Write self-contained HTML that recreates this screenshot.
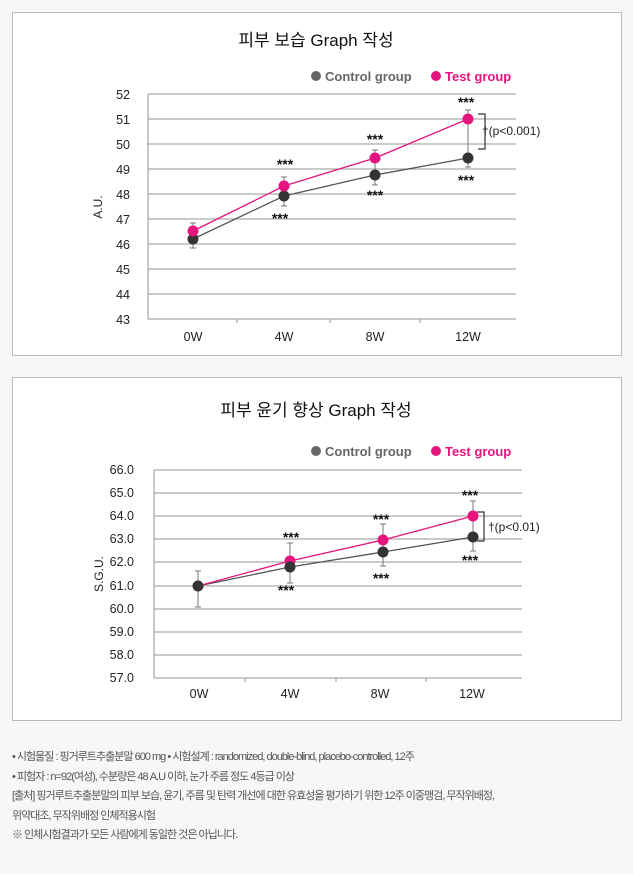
<!DOCTYPE html>
<html><head><meta charset="utf-8"><style>
body{margin:0;width:633px;height:874px;background:#f7f7f8;font-family:"Liberation Sans","Noto Sans CJK KR",sans-serif;overflow:hidden}
.box{position:absolute;left:12px;width:608px;background:#fff;border:1px solid #bbb}
.notes{position:absolute;left:12px;top:748px;font-size:11px;color:#555;line-height:19.6px;letter-spacing:-1px}
</style></head><body>
<div class="box" style="top:12px;height:342px"></div>
<div class="box" style="top:377px;height:342px"></div>
<svg width="633" height="874" style="position:absolute;left:0;top:0" font-family="Liberation Sans, Noto Sans CJK KR, sans-serif">
<!-- Chart 1 -->
<text x="316" y="46" font-size="17" text-anchor="middle" fill="#111">피부 보습 Graph 작성</text>
<circle cx="316" cy="76" r="5" fill="#666"/><text x="325" y="81" font-size="13" fill="#666" font-weight="bold">Control group</text>
<circle cx="436" cy="76" r="5" fill="#e5147f"/><text x="445" y="81" font-size="13" fill="#e5147f" font-weight="bold">Test group</text>
<g stroke="#aaa" stroke-width="1.3">
<line x1="148" y1="94" x2="516" y2="94"/><line x1="148" y1="119" x2="516" y2="119"/><line x1="148" y1="144" x2="516" y2="144"/><line x1="148" y1="169" x2="516" y2="169"/><line x1="148" y1="194" x2="516" y2="194"/><line x1="148" y1="219" x2="516" y2="219"/><line x1="148" y1="244" x2="516" y2="244"/><line x1="148" y1="269" x2="516" y2="269"/><line x1="148" y1="294" x2="516" y2="294"/><line x1="148" y1="319" x2="516" y2="319"/>
<line x1="148" y1="94" x2="148" y2="319"/><line x1="237" y1="319" x2="237" y2="323"/><line x1="330" y1="319" x2="330" y2="323"/><line x1="420" y1="319" x2="420" y2="323"/>
</g>
<g font-size="12.5" fill="#222" text-anchor="end">
<text x="130" y="99">52</text><text x="130" y="124">51</text><text x="130" y="149">50</text><text x="130" y="174">49</text><text x="130" y="199">48</text><text x="130" y="224">47</text><text x="130" y="249">46</text><text x="130" y="274">45</text><text x="130" y="299">44</text><text x="130" y="324">43</text>
</g>
<text transform="translate(102,207) rotate(-90)" font-size="12" fill="#222" text-anchor="middle">A.U.</text>
<g font-size="12.5" fill="#222" text-anchor="middle"><text x="193" y="341">0W</text><text x="284" y="341">4W</text><text x="375" y="341">8W</text><text x="468" y="341">12W</text></g>
<g stroke="#777" stroke-width="1"><line x1="193" y1="223" x2="193" y2="248"/><line x1="284" y1="177" x2="284" y2="206"/><line x1="375" y1="150" x2="375" y2="185"/><line x1="468" y1="110" x2="468" y2="167"/>
<line x1="190" y1="223" x2="196" y2="223"/><line x1="190" y1="248" x2="196" y2="248"/><line x1="281" y1="177" x2="287" y2="177"/><line x1="281" y1="206" x2="287" y2="206"/><line x1="372" y1="150" x2="378" y2="150"/><line x1="372" y1="185" x2="378" y2="185"/><line x1="465" y1="110" x2="471" y2="110"/><line x1="465" y1="167" x2="471" y2="167"/></g>
<polyline points="193,239 284,196 375,175 468,158" fill="none" stroke="#555" stroke-width="1.3"/>
<polyline points="193,231 284,186 375,158 468,119" fill="none" stroke="#e5147f" stroke-width="1.3"/>
<g fill="#333"><circle cx="193" cy="239" r="5.5"/><circle cx="284" cy="196" r="5.5"/><circle cx="375" cy="175" r="5.5"/><circle cx="468" cy="158" r="5.5"/></g>
<g fill="#e5147f"><circle cx="193" cy="231" r="5.5"/><circle cx="284" cy="186" r="5.5"/><circle cx="375" cy="158" r="5.5"/><circle cx="468" cy="119" r="5.5"/></g>
<g font-size="14" fill="#111" text-anchor="middle" font-weight="bold"><text x="285" y="169">***</text><text x="280" y="223">***</text><text x="375" y="144">***</text><text x="375" y="200">***</text><text x="466" y="107">***</text><text x="466" y="185">***</text></g>
<path d="M478,114 H485 V149 H478" fill="none" stroke="#333" stroke-width="1.2"/>
<text x="482" y="135" font-size="12" fill="#222">†(p&lt;0.001)</text>
<!-- Chart 2 -->
<text x="316" y="416" font-size="17" text-anchor="middle" fill="#111">피부 윤기 향상 Graph 작성</text>
<circle cx="316" cy="451" r="5" fill="#666"/><text x="325" y="456" font-size="13" fill="#666" font-weight="bold">Control group</text>
<circle cx="436" cy="451" r="5" fill="#e5147f"/><text x="445" y="456" font-size="13" fill="#e5147f" font-weight="bold">Test group</text>
<g stroke="#aaa" stroke-width="1.3">
<line x1="154" y1="470" x2="522" y2="470"/><line x1="154" y1="493" x2="522" y2="493"/><line x1="154" y1="516" x2="522" y2="516"/><line x1="154" y1="539" x2="522" y2="539"/><line x1="154" y1="562" x2="522" y2="562"/><line x1="154" y1="586" x2="522" y2="586"/><line x1="154" y1="609" x2="522" y2="609"/><line x1="154" y1="632" x2="522" y2="632"/><line x1="154" y1="655" x2="522" y2="655"/><line x1="154" y1="678" x2="522" y2="678"/>
<line x1="154" y1="470" x2="154" y2="678"/><line x1="245" y1="678" x2="245" y2="682"/><line x1="336" y1="678" x2="336" y2="682"/><line x1="426" y1="678" x2="426" y2="682"/>
</g>
<g font-size="12.5" fill="#222" text-anchor="end">
<text x="134" y="474">66.0</text><text x="134" y="497">65.0</text><text x="134" y="520">64.0</text><text x="134" y="543">63.0</text><text x="134" y="566">62.0</text><text x="134" y="590">61.0</text><text x="134" y="613">60.0</text><text x="134" y="636">59.0</text><text x="134" y="659">58.0</text><text x="134" y="682">57.0</text>
</g>
<text transform="translate(103,574) rotate(-90)" font-size="12" fill="#222" text-anchor="middle">S.G.U.</text>
<g font-size="12.5" fill="#222" text-anchor="middle"><text x="199" y="698">0W</text><text x="290" y="698">4W</text><text x="380" y="698">8W</text><text x="472" y="698">12W</text></g>
<g stroke="#777" stroke-width="1"><line x1="198" y1="571" x2="198" y2="607"/><line x1="290" y1="543" x2="290" y2="583"/><line x1="383" y1="524" x2="383" y2="566"/><line x1="473" y1="501" x2="473" y2="551"/>
<line x1="195" y1="571" x2="201" y2="571"/><line x1="195" y1="607" x2="201" y2="607"/><line x1="287" y1="543" x2="293" y2="543"/><line x1="287" y1="583" x2="293" y2="583"/><line x1="380" y1="524" x2="386" y2="524"/><line x1="380" y1="566" x2="386" y2="566"/><line x1="470" y1="501" x2="476" y2="501"/><line x1="470" y1="551" x2="476" y2="551"/></g>
<polyline points="198,586 290,567 383,552 473,537" fill="none" stroke="#555" stroke-width="1.3"/>
<polyline points="198,586 290,561 383,540 473,516" fill="none" stroke="#e5147f" stroke-width="1.3"/>
<g fill="#e5147f"><circle cx="290" cy="561" r="5.5"/><circle cx="383" cy="540" r="5.5"/><circle cx="473" cy="516" r="5.5"/></g>
<g fill="#333"><circle cx="198" cy="586" r="5.5"/><circle cx="290" cy="567" r="5.5"/><circle cx="383" cy="552" r="5.5"/><circle cx="473" cy="537" r="5.5"/></g>
<g font-size="14" fill="#111" text-anchor="middle" font-weight="bold"><text x="291" y="542">***</text><text x="286" y="595">***</text><text x="381" y="524">***</text><text x="381" y="583">***</text><text x="470" y="500">***</text><text x="470" y="565">***</text></g>
<path d="M477,512 H484 V541 H477" fill="none" stroke="#333" stroke-width="1.2"/>
<text x="488" y="531" font-size="12" fill="#222">†(p&lt;0.01)</text>
</svg>
<div class="notes">• 시험물질 : 핑거루트추출분말 600 mg • 시험설계 : randomized, double-blind, placebo-controlled, 12주<br>• 피험자 : n=92(여성), 수분량은 48 A.U 이하, 눈가 주름 정도 4등급 이상<br>[출처] 핑거루트추출분말의 피부 보습, 윤기, 주름 및 탄력 개선에 대한 유효성을 평가하기 위한 12주 이중맹검, 무작위배정,<br>위약대조, 무작위배정 인체적용시험<br>※ 인체시험결과가 모든 사람에게 동일한 것은 아닙니다.</div>
</body></html>
